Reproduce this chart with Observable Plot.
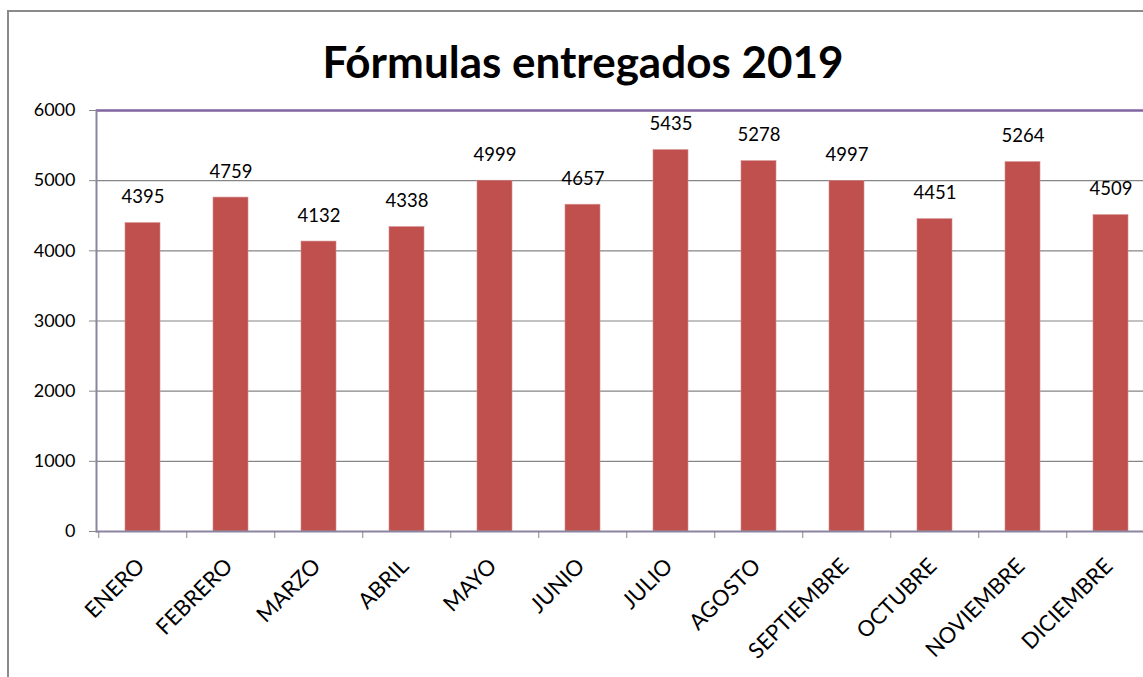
<!DOCTYPE html>
<html>
<head>
<meta charset="utf-8">
<script src="https://cdn.jsdelivr.net/npm/d3@7"></script>
<script src="https://cdn.jsdelivr.net/npm/@observablehq/plot@0.6"></script>
<style>
  html, body { margin: 0; padding: 0; background: #fff; overflow: hidden; }
  #wrap { position: relative; width: 1143px; height: 677px; overflow: hidden; font-family: Lato, "Open Sans", sans-serif; }
  #border { position: absolute; left: 7px; top: 10px; width: 1200px; height: 700px; border: 2px solid #8a8a8a; box-sizing: border-box; }
  #title { position: absolute; left: 7px; width: 1152px; top: 33px; text-align: center; font-weight: bold; font-size: 44px; line-height: 56px; color: #000; }
  #chart { position: absolute; left: 0; top: 0; }
  #chart svg { max-width: none !important; }
</style>
</head>
<body>
<div id="wrap">
  <div id="border"></div>
  <div id="title">Fórmulas entregados 2019</div>
  <div id="chart"></div>
</div>
<script>
const months = ["ENERO", "FEBRERO", "MARZO", "ABRIL", "MAYO", "JUNIO", "JULIO", "AGOSTO", "SEPTIEMBRE", "OCTUBRE", "NOVIEMBRE", "DICIEMBRE"];
const values = [4395, 4759, 4132, 4338, 4999, 4657, 5435, 5278, 4997, 4451, 5264, 4509];
const yTicks = [0, 1000, 2000, 3000, 4000, 5000, 6000];

const data = months.map((m, i) => ({month: m, value: values[i]}));

const W = 1160, H = 677, ML = 96, MR = 2, MT = 110, MB = 146;
const step = (W - ML - MR) / months.length;

const chart = Plot.plot({
  width: W,
  height: H,
  marginTop: MT,
  marginBottom: MB,
  marginLeft: ML,
  marginRight: MR,
  style: {fontFamily: "Lato, 'Open Sans', sans-serif", background: "transparent", overflow: "visible", maxWidth: "none"},
  x: {domain: months, paddingInner: 0.6, paddingOuter: 0.3, axis: null},
  y: {domain: [0, 6000], axis: null},
  marks: [
    Plot.gridY(yTicks.filter(v => v > 0 && v < 6000), {stroke: "#868686", strokeOpacity: 1, strokeWidth: 1.2}),
    Plot.ruleY([6000], {stroke: "#8064A2", strokeWidth: 2.5}),
    Plot.barY(data, {x: "month", y: "value", fill: "#C0504D", stroke: "#d28e8c", strokeWidth: 0.6}),
    Plot.ruleY([0], {stroke: "#8b84a0", strokeWidth: 2}),
    Plot.frame({anchor: "left", stroke: "#8b84a0", strokeWidth: 2}),
    Plot.axisY(yTicks, {tickSize: 7, tickPadding: 14, tickFormat: d => String(d), stroke: "#868686", fill: "#000", fontSize: 18, label: null}),
    Plot.axisX(months, {tickSize: 7, dx: -step / 2, text: null, stroke: "#868686", label: null}),
    Plot.text(months, {x: d => d, frameAnchor: "bottom", rotate: -45, textAnchor: "end", lineAnchor: "middle", dy: 31, dx: -2, fontSize: 22, fill: "#000"}),
    Plot.text(data, {x: "month", y: "value", text: d => String(d.value), lineAnchor: "bottom", dy: -20, fontSize: 18.5, fill: "#000"})
  ]
});
document.getElementById("chart").appendChild(chart);
</script>
</body>
</html>
